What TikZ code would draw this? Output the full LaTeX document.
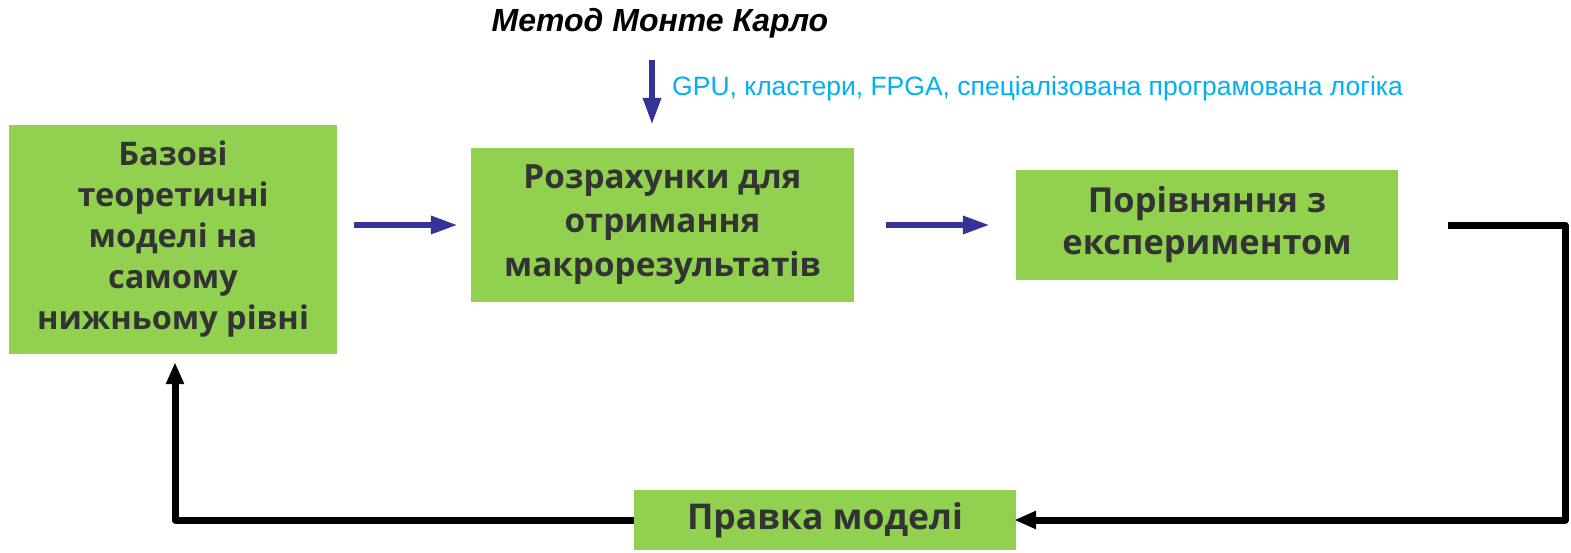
\documentclass[tikz,border=0pt]{standalone}
\usepackage{fontspec}
\setmainfont{Open Sans}
\newfontfamily\arialfont{Liberation Sans}
\usetikzlibrary{arrows.meta,calc}
\definecolor{boxgreen}{HTML}{92D050}
\definecolor{boxtext}{HTML}{333333}
\definecolor{arrblue}{HTML}{333399}
\definecolor{labblue}{HTML}{00B0F0}
\tikzset{
  box/.style={fill=boxgreen, inner sep=0pt, align=center, text=boxtext},
  bluearrow/.style={draw=arrblue, line width=6pt, -{Triangle[length=27pt,width=17pt]}},
  blackarrow/.style={draw=black, line width=7pt, -{Triangle[length=22pt,width=17pt]}},
}
\begin{document}
\begin{tikzpicture}[x=1pt,y=-1pt]
\useasboundingbox (0,0) rectangle (1571,552);
\node[box, minimum width=328pt, minimum height=229pt,
  font=\fontsize{32.5}{41}\selectfont\bfseries] (b1) at (173,239.5)
  {Базові\\теоретичні\\моделі на\\самому\\нижньому рівні};
\node[box, minimum width=383pt, minimum height=154pt,
  font=\fontsize{33.3}{44}\selectfont\bfseries] (b2) at (662.5,225)
  {Розрахунки для\\отримання\\макрорезультатів};
\node[box, minimum width=382pt, minimum height=110pt,
  font=\fontsize{34.4}{42}\selectfont\bfseries] (b3) at (1207,225)
  {Порівняння з\\експериментом};
\node[box, minimum width=382pt, minimum height=60pt,
  font=\fontsize{35.5}{42}\selectfont\bfseries] (b4) at (825,520)
  {Правка моделі};
\node[font=\arialfont\fontsize{32}{36}\selectfont\bfseries\itshape, text=black] (title) at (660,23) {Метод Монте Карло};
\node[font=\arialfont\fontsize{26.5}{30}\selectfont, text=labblue, anchor=west, inner sep=0pt] (lab) at (672,89)
  {GPU, кластери, FPGA, спеціалізована програмована логіка};
\coordinate (mtop) at (652,60);
\coordinate (ret) at (1565,225);
\coordinate (retb) at (1565,520);
\coordinate (retl) at (175,520);
% blue arrows
\draw[bluearrow, shorten <=17pt, shorten >=13pt] (b1.east |- b2.west) -- (b2.west);
\draw[bluearrow, shorten <=32pt, shorten >=26pt] (b2.east) -- (b3.west);
\draw[bluearrow, shorten >=23pt] (mtop) -- (mtop |- b2.north);
% black feedback loop
\draw[blackarrow, line join=round, shorten >=-2pt] ($(b3.east)+(50,0)$) -- (ret) -- (retb) -- (b4.east);
\draw[blackarrow, line join=round, shorten >=8pt] (b4.west) -- (retl) -- (retl |- b1.south);
\end{tikzpicture}
\end{document}
